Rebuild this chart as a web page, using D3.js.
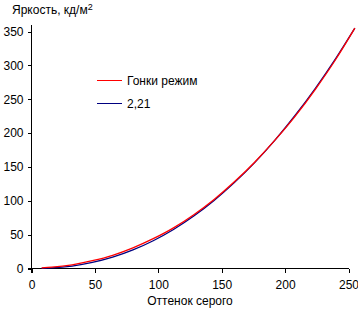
<!DOCTYPE html>
<html>
<head>
<meta charset="utf-8">
<script src="https://cdn.jsdelivr.net/npm/d3@7"></script>
<style>
  body { margin: 0; background: #fff; }
  text { font-family: "Liberation Sans", Arial, sans-serif; font-size: 12px; fill: #000; }
</style>
</head>
<body>
<svg id="chart" width="358" height="311"></svg>
<script>
// grey levels where the curves were read
var levels = [8, 16, 32, 48, 64, 80, 96, 112, 128, 144, 160, 176, 192, 208, 224, 240, 255]
// measured "Гонки режим" brightness, cd/m2
var raceValues = [1, 2, 5.5, 11.5, 19.5, 30.5, 44, 60, 79.5, 102, 128, 157, 189.5, 225, 265, 309, 355]
// reference gamma 2.21 curve
var gammaValues = [0.2, 0.8, 3.6, 8.9, 16.7, 27.4, 41, 57.6, 77.4, 100.4, 126.8, 156.3, 189.6, 226.3, 266.5, 310.4, 355]

var xTicks = [0, 50, 100, 150, 200, 250]
var yTicks = [0, 50, 100, 150, 200, 250, 300, 350]

var series = [
  { name: 'Гонки режим', color: '#ff0000', values: raceValues },
  { name: '2,21', color: '#000080', values: gammaValues }
]

var svg = d3.select('#chart')

var x = d3.scaleLinear().domain([0, 250]).range([31.5, 348.5])
var y = d3.scaleLinear().domain([0, 350]).range([268.5, 31.5])

// plotting area top sits a bit above the 350 tick
var yTop = 25

var line = d3.line()
  .x(function(d) { return x(d[0]) })
  .y(function(d) { return y(d[1]) })
  .curve(d3.curveMonotoneX)

// axes
var xAxis = svg.append('g')
  .attr('transform', 'translate(0,' + y(0) + ')')
  .call(d3.axisBottom(x).tickValues(xTicks).tickSize(4).tickPadding(8).tickSizeOuter(0))
xAxis.select('.domain').attr('d', 'M' + (x(0) - 4) + ',0H' + x(250))

var yAxis = svg.append('g')
  .attr('transform', 'translate(' + x(0) + ',0)')
  .call(d3.axisLeft(y).tickValues(yTicks).tickSize(4).tickPadding(4).tickSizeOuter(0))
yAxis.select('.domain').attr('d', 'M0,' + yTop + 'V' + (y(0) + 4))

svg.selectAll('.tick text')
  .style('font-family', '"Liberation Sans", Arial, sans-serif')
  .style('font-size', '12px')
svg.selectAll('.domain, .tick line').attr('stroke', '#000').attr('shape-rendering', 'crispEdges')

// curves (blue first, red over it)
svg.selectAll('path.curve')
  .data(series.slice().reverse())
  .enter()
  .append('path')
    .attr('class', 'curve')
    .attr('fill', 'none')
    .attr('stroke', function(d) { return d.color })
    .attr('stroke-width', 1.3)
    .attr('d', function(d) {
      return line(levels.map(function(l, i) { return [l, d.values[i]] }))
    })

// legend
var legend = svg.selectAll('g.legend')
  .data(series)
  .enter()
  .append('g')
    .attr('class', 'legend')
    .attr('transform', function(d, i) { return 'translate(97,' + (80.5 + i * 23) + ')' })

legend.append('line')
  .attr('x1', 0).attr('x2', 25)
  .attr('stroke', function(d) { return d.color })
  .attr('stroke-width', 1)

legend.append('text')
  .attr('x', 30).attr('y', 4.5)
  .text(function(d) { return d.name })

// titles
var title = svg.append('text').attr('x', 12).attr('y', 14)
title.append('tspan').text('Яркость, кд/м')
title.append('tspan').attr('font-size', '9px').attr('dy', -4).text('2')

svg.append('text')
  .attr('x', 190).attr('y', 305)
  .attr('text-anchor', 'middle')
  .text('Оттенок серого')
</script>
</body>
</html>
